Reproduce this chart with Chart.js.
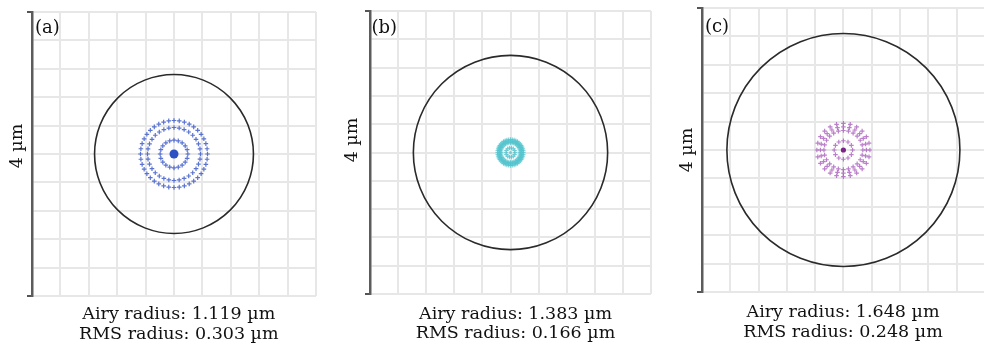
<!DOCTYPE html>
<html lang="es">
<head>
<meta charset="utf-8">
<title>Diagramas de puntos</title>
<script src="https://cdn.jsdelivr.net/npm/chart.js@4.4.0/dist/chart.umd.min.js"></script>
<style>
  html, body { margin: 0; padding: 0; background: #fff; overflow: hidden; }
  body { width: 984px; height: 344px; position: relative; font-family: "DejaVu Serif", serif; color: #111; }
  .panel { position: absolute; top: 0; width: 330px; height: 344px; }
  .panel canvas { position: absolute; left: 0; top: 0; }
  .letra { position: absolute; font-size: 18px; line-height: 20px; white-space: nowrap; }
  .escala { position: absolute; font-size: 17.5px; line-height: 20px; white-space: nowrap; transform: translate(-50%, -50%) rotate(-90deg); }
  .pie { position: absolute; font-size: 17.5px; line-height: 19.5px; text-align: center; white-space: nowrap; transform: translateX(-50%); }
</style>
</head>
<body>
<script>
// Datos de los tres diagramas (a), (b), (c)
const letras = ["(a)", "(b)", "(c)"];
const radiosAiry = [1.119, 1.383, 1.648];   // µm
const radiosRMS = [0.303, 0.166, 0.248];    // µm
const textoEscala = "4 µm";
const limiteEje = 2;      // el plano va de -2 a 2 µm
const pasoRejilla = 0.4;

// anillos de rayos: radio (µm) y cantidad de puntos
const anillosA = [0.472, 0.373, 0.195];
const puntosA = [40, 32, 20];
const anillosB = [0.182, 0.161, 0.14, 0.065];
const puntosB = [44, 40, 36, 14];
const anillosC = [0.375, 0.325, 0.275, 0.13];
const puntosC = [24, 24, 24, 12];

// estilo de cada panel
const colorRayos = ["rgba(62,92,200,0.85)", "rgba(84,196,206,0.75)", "rgba(164,86,184,0.75)"];
const colorCentro = ["#2c51c2", "#6ccdd6", "#7a2585"];
const tamCentro = [4.5, 1.5, 2.6];
const posPanel = [0, 330, 660];
const margenes = [
  { left: 27, top: 12, right: 14, bottom: 48 },
  { left: 35, top: 11, right: 9, bottom: 50 },
  { left: 37, top: 8, right: 3, bottom: 52 }
];
const posLetra = [[35, 17], [371.5, 17], [705, 16]];
const posEscala = [[15.5, 146], [351, 140], [685.5, 150]];
const posPie = [[178.8, 304], [515.5, 303.5], [843, 302]];

// pasa los anillos a puntos x,y
function puntosAnillos(radios, cantidades) {
  var lista = [];
  for (var i = 0; i < radios.length; i++) {
    for (var k = 0; k < cantidades[i]; k++) {
      var angulo = 2 * Math.PI * k / cantidades[i];
      lista.push({ x: radios[i] * Math.cos(angulo), y: radios[i] * Math.sin(angulo) });
    }
  }
  return lista;
}

// circulo de Airy dibujado con las escalas del grafico
const circuloAiry = {
  id: 'circuloAiry',
  beforeDatasetsDraw(chart, args, opts) {
    const ejeX = chart.scales.x;
    const ejeY = chart.scales.y;
    const cx = ejeX.getPixelForValue(0);
    const cy = ejeY.getPixelForValue(0);
    const r = ejeX.getPixelForValue(opts.radio) - cx;
    const ctx = chart.ctx;
    ctx.save();
    ctx.beginPath();
    ctx.arc(cx, cy, r, 0, 2 * Math.PI);
    ctx.strokeStyle = '#2a2a2a';
    ctx.lineWidth = 1.6;
    ctx.stroke();
    ctx.restore();
  }
};

const anillos = [anillosA, anillosB, anillosC];
const cantidades = [puntosA, puntosB, puntosC];

for (let i = 0; i < 3; i++) {
  var divPanel = document.createElement("div");
  divPanel.classList.add("panel");
  divPanel.style.left = posPanel[i] + "px";
  var lienzo = document.createElement("canvas");
  lienzo.width = 330;
  lienzo.height = 344;
  divPanel.appendChild(lienzo);
  document.body.appendChild(divPanel);

  new Chart(lienzo.getContext('2d'), {
    type: 'scatter',
    data: {
      datasets: [{
        data: puntosAnillos(anillos[i], cantidades[i]),
        pointStyle: 'cross',
        pointRadius: 2.3,
        borderWidth: 1.2,
        borderColor: colorRayos[i],
        backgroundColor: colorRayos[i]
      }, {
        data: [{ x: 0, y: 0 }],
        pointStyle: 'circle',
        pointRadius: tamCentro[i],
        borderWidth: 0,
        backgroundColor: colorCentro[i]
      }]
    },
    options: {
      responsive: false,
      animation: false,
      events: [],
      devicePixelRatio: 1,
      layout: { padding: margenes[i] },
      plugins: {
        legend: { display: false },
        tooltip: { enabled: false },
        circuloAiry: { radio: radiosAiry[i] }
      },
      scales: {
        x: {
          type: 'linear', min: -limiteEje, max: limiteEje,
          ticks: { display: false, stepSize: pasoRejilla },
          grid: { color: '#e7e7e7', lineWidth: 2, drawTicks: false },
          border: { display: false }
        },
        y: {
          type: 'linear', min: -limiteEje, max: limiteEje,
          ticks: { display: false, stepSize: pasoRejilla },
          grid: {
            color: '#e7e7e7', lineWidth: 2, drawTicks: true, tickLength: 5,
            tickColor: function (c) {
              return (c.index === 0 || c.index === 10) ? '#555555' : 'rgba(0,0,0,0)';
            }
          },
          border: { display: true, color: '#5c5c5c', width: 2.5 }
        }
      }
    },
    plugins: [circuloAiry]
  });

  // textos del panel
  var letra = document.createElement("div");
  letra.classList.add("letra");
  letra.style.left = posLetra[i][0] + "px";
  letra.style.top = posLetra[i][1] + "px";
  letra.textContent = letras[i];
  document.body.appendChild(letra);

  var escala = document.createElement("div");
  escala.classList.add("escala");
  escala.style.left = posEscala[i][0] + "px";
  escala.style.top = posEscala[i][1] + "px";
  escala.textContent = textoEscala;
  document.body.appendChild(escala);

  var pie = document.createElement("div");
  pie.classList.add("pie");
  pie.style.left = posPie[i][0] + "px";
  pie.style.top = posPie[i][1] + "px";
  pie.innerHTML = "Airy radius: " + radiosAiry[i].toFixed(3) + " µm<br>RMS radius: " + radiosRMS[i].toFixed(3) + " µm";
  document.body.appendChild(pie);
}
</script>
</body>
</html>
